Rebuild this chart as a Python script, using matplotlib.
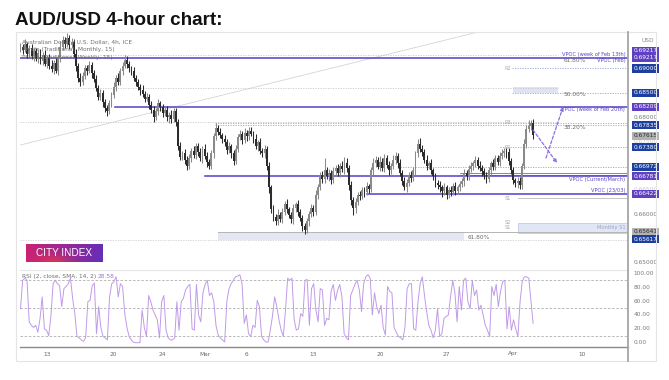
import numpy as np
import matplotlib
matplotlib.use("Agg")
import matplotlib.pyplot as plt
from matplotlib.transforms import blended_transform_factory
from matplotlib.patches import Rectangle

# ---------------- data ----------------
# 4h closes in pips (0.0001), open of each candle = previous close
first_open = 6940
close_pips = [
    6945, 6938, 6950, 6930, 6942, 6925, 6935, 6920, 6932, 6915,
    6928, 6910, 6922, 6905, 6898, 6912, 6895, 6920, 6945, 6958,
    6950, 6962, 6948, 6955, 6930, 6905, 6880, 6872, 6885, 6900,
    6895, 6908, 6890, 6878, 6860, 6842, 6850, 6830, 6818, 6812,
    6828, 6845, 6862, 6880, 6872, 6895, 6905, 6918, 6910, 6900,
    6895, 6880, 6872, 6862, 6856, 6848, 6838, 6842, 6825, 6815,
    6800, 6812, 6828, 6820, 6808, 6815, 6800, 6805, 6795, 6812,
    6790, 6740, 6718, 6725, 6712, 6700, 6715, 6730, 6722, 6740,
    6728, 6715, 6735, 6720, 6708, 6700, 6725, 6760, 6778, 6770,
    6762, 6755, 6748, 6732, 6740, 6725, 6710, 6735, 6758, 6765,
    6752, 6768, 6760, 6772, 6765, 6755, 6740, 6748, 6730, 6725,
    6735, 6700, 6655, 6610, 6595, 6585, 6598, 6590, 6605, 6622,
    6610, 6598, 6590, 6612, 6620, 6605, 6592, 6575, 6568, 6585,
    6600, 6612, 6605, 6640, 6655, 6680, 6672, 6690, 6678, 6685,
    6670, 6688, 6695, 6685, 6700, 6692, 6705, 6695, 6660, 6630,
    6612, 6625, 6640, 6638, 6650, 6645, 6658, 6652, 6690, 6705,
    6712, 6698, 6708, 6695, 6715, 6702, 6690, 6700, 6712, 6720,
    6705, 6685, 6668, 6655, 6665, 6680, 6675, 6690, 6725, 6745,
    6735, 6728, 6712, 6700, 6705, 6690, 6678, 6665, 6660, 6655,
    6648, 6655, 6640, 6650, 6645, 6658, 6648, 6655, 6662, 6668,
    6685, 6678, 6692, 6700, 6705, 6712, 6700, 6695, 6688, 6680,
    6672, 6690, 6705, 6698, 6715, 6708, 6720, 6725, 6730, 6728,
    6710, 6690, 6670, 6665, 6668, 6660, 6700, 6745, 6775, 6782,
    6788, 6762,
]
wick_hi = [
    8, 6, 10, 5, 7, 9, 6, 8, 5, 7,
    6, 9, 5, 8, 12, 6, 10, 8, 12, 9,
    7, 10, 6, 8, 5, 9, 6, 10, 7, 8,
    6, 8, 5, 7, 9, 6, 8, 5, 7, 6,
    8, 6, 9, 7, 10, 6, 8, 9, 7, 6,
    5, 8, 6, 7, 5, 9, 6, 8, 5, 7,
    8, 6, 9, 5, 7, 6, 8, 5, 9, 6,
    7, 5, 8, 6, 9, 7, 8, 6, 10, 7,
    6, 8, 5, 9, 7, 6, 8, 7, 9, 6,
    8, 5, 7, 6, 9, 5, 8, 7, 6, 8,
    6, 9, 5, 8, 7, 6, 9, 5, 8, 6,
    7, 6, 8, 5, 9, 6, 12, 7, 8, 6,
    9, 5, 7, 8, 6, 9, 5, 7, 6, 8,
    7, 9, 6, 10, 8, 6, 9, 26, 7, 8,
    6, 9, 7, 8, 5, 9, 12, 10, 6, 8,
    5, 9, 6, 8, 7, 6, 9, 5, 8, 10,
    8, 6, 12, 7, 9, 6, 8, 5, 10, 7,
    6, 8, 5, 9, 7, 6, 8, 7, 6, 9,
    12, 8, 6, 9, 5, 8, 6, 7, 5, 8,
    6, 9, 5, 7, 8, 6, 9, 5, 7, 6,
    8, 6, 9, 7, 5, 8, 6, 9, 7, 8,
    6, 8, 5, 9, 7, 6, 8, 9, 7, 6,
    8, 6, 7, 5, 9, 8, 6, 10, 8, 12,
    6, 8,
]
wick_lo = [
    6, 9, 5, 8, 7, 6, 9, 5, 8, 6,
    8, 6, 9, 7, 6, 10, 5, 8, 6, 7,
    9, 6, 8, 5, 7, 10, 8, 9, 6, 7,
    8, 5, 9, 6, 7, 8, 6, 9, 7, 10,
    6, 8, 5, 9, 7, 6, 8, 5, 9, 7,
    8, 6, 9, 7, 10, 6, 8, 5, 9, 7,
    10, 6, 8, 7, 9, 5, 8, 12, 7, 6,
    9, 8, 7, 6, 9, 10, 7, 8, 6, 9,
    8, 6, 9, 7, 10, 8, 6, 9, 7, 8,
    6, 9, 7, 8, 6, 10, 9, 7, 8, 6,
    8, 6, 9, 7, 5, 8, 6, 9, 7, 8,
    9, 10, 12, 8, 9, 7, 8, 6, 9, 7,
    8, 6, 9, 10, 7, 8, 6, 9, 8, 7,
    9, 6, 8, 7, 9, 6, 8, 7, 6, 9,
    8, 6, 9, 7, 8, 6, 9, 8, 10, 12,
    14, 9, 6, 8, 7, 9, 6, 8, 7, 9,
    8, 6, 9, 7, 8, 6, 9, 7, 6, 8,
    9, 7, 8, 6, 10, 7, 8, 6, 9, 7,
    6, 8, 7, 9, 6, 8, 7, 10, 8, 9,
    12, 8, 9, 7, 8, 6, 9, 7, 8, 6,
    9, 7, 8, 6, 9, 7, 8, 6, 9, 7,
    8, 6, 9, 7, 8, 6, 9, 7, 8, 12,
    9, 7, 8, 10, 12, 9, 8, 7, 9, 6,
    8, 7,
]
rsi_values = [
    49, 90, 93, 90, 30, 25, 22, 25, 15, 35, 66, 20, 18, 10, 38, 85, 90, 85, 82, 52,
    78, 81, 85, 93, 64, 42, 9, 7, 4, 2, 7, 59, 61, 82, 86, 13, 52, 22, 9, 7,
    4, 66, 85, 88, 95, 66, 85, 81, 42, 22, 9, 4, 1, 0, 0, 0, 47, 22, 9, 68,
    59, 47, 40, 33, 7, 59, 68, 18, 7, 4, 4, 7, 59, 18, 59, 64, 76, 81, 84, 20,
    18, 84, 40, 30, 72, 84, 90, 68, 72, 59, 25, 11, 7, 4, 1, 59, 78, 85, 90, 95,
    96, 98, 85, 28, 40, 13, 9, 25, 22, 61, 52, 9, 4, 1, 1, 18, 38, 66, 52, 33,
    18, 9, 47, 93, 90, 93, 33, 18, 20, 42, 38, 90, 91, 25, 78, 85, 47, 30, 78, 76,
    25, 35, 33, 74, 84, 61, 76, 84, 66, 13, 7, 4, 68, 76, 84, 90, 76, 45, 85, 95,
    98, 93, 40, 72, 52, 42, 54, 22, 11, 81, 74, 72, 22, 15, 9, 7, 4, 22, 78, 85,
    85, 20, 18, 59, 85, 95, 68, 45, 25, 18, 7, 18, 49, 9, 13, 35, 38, 40, 66, 90,
    72, 30, 81, 47, 90, 93, 59, 49, 90, 68, 76, 47, 54, 40, 25, 18, 9, 81, 68, 84,
    52, 74, 88, 90, 20, 52, 18, 33, 20, 9, 59, 88, 95, 95, 93, 61, 28,
]
x_tick_idx = [12, 42, 64, 83, 102, 132, 162, 192, 222, 253]
x_tick_labels = ["13", "20", "24", "Mar", "6", "13", "20", "27", "Apr", "10"]

# horizontal levels: (price, start index)
vpoc_levels = [(0.69217, 0), (0.68209, 42.6), (0.66781, 83.1), (0.66422, 156)]
vpoc_texts = [("VPOC (week of Feb 13th)", 0.69217, "bottom"),
              ("VPOC (Feb)", 0.69217, "top"),
              ("VPOC (week of Feb 20th)", 0.68209, "top"),
              ("VPOC (Current/March)", 0.66781, "top"),
              ("VPOC (23/03)", 0.66422, "bottom")]
fib_gray = [0.69276, 0.68590, 0.67903]
fib_labels = [("61.80%", 0.69217), ("50.00%", 0.68500), ("38.20%", 0.67835)]
pivot_dotted = [(0.69000, 221.5), (0.68500, 221.5), (0.67877, 87.7),
                (0.67835, 87.7), (0.67380, 216), (0.66972, 171)]
pivot_labels = [("R2", 0.69000), ("R3", 0.67877), ("R1", 0.67380),
                ("S1", 0.66333), ("S2", 0.65825), ("S1", 0.65726)]

# axis labels: (display price, text, kind)
axis_labels = [
    (0.69364, "0.69217", "purple"), (0.69217, "0.69217", "purple"),
    (0.69000, "0.69000", "blue"), (0.68500, "0.68500", "blue"),
    (0.68209, "0.68209", "purple"), (0.68000, "0.68000", "plain"),
    (0.67835, "0.67835", "blue"), (0.67500, "0.67500", "faint"),
    (0.67615, "0.67615", "gray"), (0.67380, "0.67380", "blue"),
    (0.66972, "0.66972", "blue"), (0.66781, "0.66781", "purple"),
    (0.66500, "0.66500", "faint"), (0.66422, "0.66422", "purple"),
    (0.66000, "0.66000", "plain"), (0.65641, "0.65641", "gray"),
    (0.65484, "0.65617", "blue"), (0.65000, "0.65000", "plain"),
]
rsi_axis = [100, 80, 60, 40, 20, 0]

# ---------------- figure ----------------
W, H = 669, 380
fig = plt.figure(figsize=(W / 100, H / 100), dpi=100)
fig.patch.set_facecolor("white")

def fx(x):
    return x / W

def fy(y):
    return 1 - y / H

PURPLE = "#5a46c8"
BLUE = "#1d3f9e"
PIV = "#97a3d8"
GRAYTXT = "#6b6b6b"
FS = 4.2

# widget frame
fig.patches.append(Rectangle((fx(16), fy(361)), fx(656) - fx(16), fy(32) - fy(361),
                             transform=fig.transFigure, fill=False, ec="#e4e4e4", lw=0.8))

fig.text(fx(15), fy(25), "AUD/USD 4-hour chart:", fontsize=13.6, fontweight="bold",
         family="Liberation Sans", color="#111111", va="baseline", ha="left")

ax = fig.add_axes([fx(20), fy(270), fx(628) - fx(20), fy(32) - fy(270)])
axr = fig.add_axes([fx(20), fy(347), fx(628) - fx(20), fy(270) - fy(347)])
XL = (-0.225, 273.77)
for a in (ax, axr):
    a.set_xlim(*XL)
    a.set_xticks([])
    a.set_yticks([])
    for s in a.spines.values():
        s.set_visible(False)
    a.set_facecolor("none")
ax.set_ylim(0.648519, 0.697490)
axr.set_ylim(-6.2, 104.75)

bt = blended_transform_factory(ax.transAxes, ax.transData)

# ---------- candles ----------
c = np.array(close_pips, dtype=float)
o = np.concatenate([[first_open], c[:-1]])
hi = np.maximum(o, c) + np.array(wick_hi)
lo = np.minimum(o, c) - np.array(wick_lo)
idx = np.arange(len(c))
up = c >= o
col = np.where(up, "#8a8a8a", "#2c2c2c")
ax.vlines(idx, lo / 1e4, hi / 1e4, colors=col, lw=0.75, zorder=4)
body = np.maximum(np.abs(c - o), 1.5) / 1e4
ax.bar(idx, body, bottom=np.minimum(o, c) / 1e4, width=0.85, color=col, lw=0, zorder=5)

# ---------- levels ----------
xe = XL[1]
for p in fib_gray:
    ax.plot([XL[0], 242], [p, p], color="#c9c9c9", lw=0.6, ls=(0, (1.5, 1.5)), zorder=2)
ax.plot([XL[0], xe], [0.65469, 0.65469], color="#cfcfcf", lw=0.6, ls=(0, (1.5, 1.5)), zorder=2)
for p, s in pivot_dotted:
    ax.plot([s, xe], [p, p], color=PIV, lw=0.6, ls=(0, (1.5, 1.5)), zorder=2)
ax.add_patch(Rectangle((222, 0.6850), 20, 0.0012, fc="#dfe4f5", ec="none", zorder=1))
ax.plot([198, xe], [0.66854, 0.66854], color="#777777", lw=0.6, zorder=2)
ax.plot([198, xe], [0.66807, 0.66807], color="#777777", lw=0.6, zorder=2)
ax.plot([224, xe], [0.66333, 0.66333], color="#c4c4c4", lw=0.7, zorder=2)
ax.add_patch(Rectangle((224, 0.65617), xe - 224, 0.00208, fc="#e1e6f4", ec="#b9c2e2", lw=0.5, zorder=1))
ax.add_patch(Rectangle((89, 0.65470), 111, 0.00171, fc="#e3e7f4", ec="none", zorder=1))
ax.plot([89, xe], [0.65641, 0.65641], color="#b5b5b5", lw=0.7, zorder=2)
for p, s in vpoc_levels:
    ax.plot([s, xe], [p, p], color=PURPLE, lw=1.15, zorder=3)
# trend line
ax.plot([0, 206.2], [0.67424, 0.69749], color="#d5d5d5", lw=0.6, zorder=1)

for t, p, va in vpoc_texts:
    off = 0.00012 if va == "bottom" else -0.00012
    ax.text(272.5, p + off, t, fontsize=3.7, color=PURPLE, ha="right", va=va, zorder=6)
for t, p in fib_labels:
    ax.text(244.8, p - 0.00045, t, fontsize=FS, color=GRAYTXT, ha="left", va="center", zorder=6)
ax.text(201.5, 0.65520, "61.80%", fontsize=FS, color=GRAYTXT, ha="left", va="center", zorder=6)
for t, p in pivot_labels:
    ax.text(221.2, p, t, fontsize=3.6, color="#a8a8a8", ha="right", va="center", zorder=6)
ax.text(272.5, 0.65726, "Monthly S1", fontsize=3.7, color="#9aa3c8", ha="right", va="center", zorder=6)

# projection arrows
arrow_kw = dict(arrowstyle="-|>", color="#8e6fe0", lw=0.9, ls=(0, (2.5, 1.5)),
                mutation_scale=5, shrinkA=0, shrinkB=0)
ax.annotate("", xy=(241.8, 0.67053), xytext=(231, 0.67733), arrowprops=arrow_kw, zorder=7)
ax.annotate("", xy=(244.5, 0.68206), xytext=(236.8, 0.67156), arrowprops=arrow_kw, zorder=7)

# legend texts
for k, t in enumerate(["Australian Dollar / U.S. Dollar, 4h, ICE",
                       "Pivots (Traditional, Monthly, 15)",
                       "Pivots (Traditional, Weekly, 15)"]):
    fig.text(fx(22), fy(42 + 8 * k), t, fontsize=FS, color="#707070", va="center", ha="left")

# price axis labels
for p, t, kind in axis_labels:
    if kind == "plain":
        ax.text(1.009, p, t, transform=bt, fontsize=FS, color="#7a7a7a", va="center",
                ha="left", clip_on=False, zorder=8)
    elif kind == "faint":
        ax.text(1.009, p, t, transform=bt, fontsize=FS, color="#c8c8c8", va="center",
                ha="left", clip_on=False, zorder=7)
    else:
        fc = {"purple": "#5f3fc2", "blue": BLUE, "gray": "#b3b3b3"}[kind]
        tc = "#2a2a2a" if kind == "gray" else "white"
        ax.text(1.009, p, t, transform=bt, fontsize=FS, color=tc, va="center", ha="left",
                clip_on=False, zorder=9,
                bbox=dict(boxstyle="square,pad=0.28", fc=fc, ec="none"))
fig.text(fx(641), fy(41), "USD", fontsize=FS, color="#8a8a8a", va="center", ha="left")

# CITY INDEX logo
lax = fig.add_axes([fx(25.5), fy(262), fx(101.5) - fx(25.5), fy(244) - fy(262)])
gx = np.linspace(0, 1, 120)
gy = np.linspace(0, 1, 30)
GX, GY = np.meshgrid(gx, gy)
c1 = np.array([0.80, 0.13, 0.45])
c2 = np.array([0.40, 0.18, 0.72])
c3 = np.array([0.93, 0.25, 0.22])
t_ = GX[..., None]
img = c1 * (1 - t_) + c2 * t_
blob = np.exp(-((GX - 0.35) ** 2 / 0.05 + (GY - 0.0) ** 2 / 0.15))[..., None]
img = img * (1 - 0.6 * blob) + c3 * 0.6 * blob
lax.imshow(img, aspect="auto", extent=(0, 1, 0, 1), origin="lower")
lax.set_axis_off()
lax.text(0.5, 0.5, "CITY INDEX", color="white", fontsize=7.2, ha="center", va="center",
         family="Liberation Sans")

# ---------- RSI ----------
rx = np.linspace(0, len(c) - 1, len(rsi_values))
for lvl in (90, 50, 10):
    axr.axhline(lvl, color="#b0b0b0", lw=0.6, ls=(0, (3, 2)), zorder=1)
axr.plot(rx, rsi_values, color="#c09ae8", lw=0.7, zorder=3)
axr.text(0.004, 95.5, "RSI (2, close, SMA, 14, 2)", transform=blended_transform_factory(axr.transAxes, axr.transData),
         fontsize=FS, color="#707070", va="center", ha="left")
axr.text(0.127, 95.5, "28.58", transform=blended_transform_factory(axr.transAxes, axr.transData),
         fontsize=FS, color="#9a6fe0", va="center", ha="left")
btr = blended_transform_factory(axr.transAxes, axr.transData)
for v in rsi_axis:
    axr.text(1.009, v, f"{v:.2f}", transform=btr, fontsize=FS, color="#7a7a7a",
             va="center", ha="left", clip_on=False)

# separators, axes lines
fig.add_artist(plt.Line2D([fx(20), fx(628)], [fy(270), fy(270)], color="#e6e6e6", lw=0.8))
fig.add_artist(plt.Line2D([fx(20), fx(628)], [fy(347), fy(347)], color="#8a8a8a", lw=1.0))
fig.add_artist(plt.Line2D([fx(628), fx(628)], [fy(32), fy(361)], color="#a5a5a5", lw=1.3))

# x tick labels
btx = blended_transform_factory(axr.transData, fig.transFigure)
for i, t in zip(x_tick_idx, x_tick_labels):
    axr.text(i, fy(354), t, transform=btx, fontsize=FS, color="#6a6a6a", ha="center",
             va="center", clip_on=False)

fig.savefig("out.png", dpi=100)
